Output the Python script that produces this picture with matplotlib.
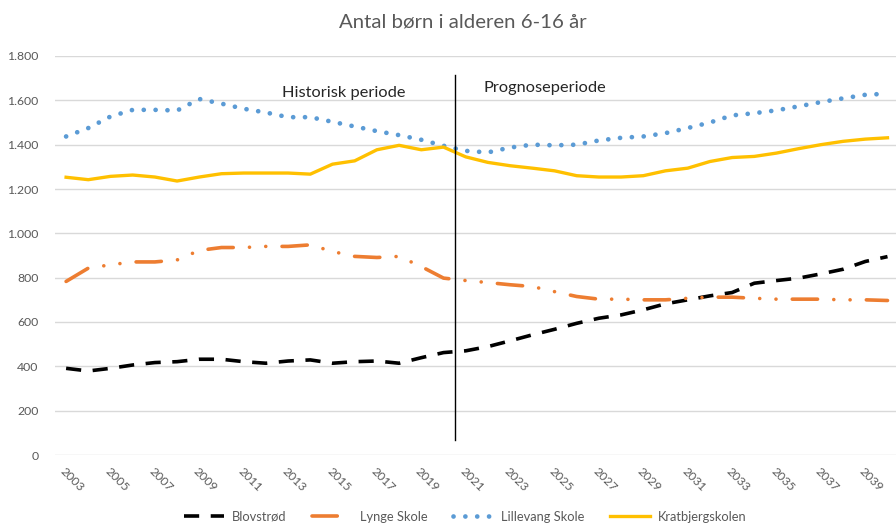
import numpy as np
import matplotlib
matplotlib.use('Agg')
from matplotlib import pyplot as plt

years = list(range(2003, 2041))

blovstrod = [391, 379, 391, 406, 417, 421, 432, 432, 421, 414,
             424, 429, 414, 421, 424, 414, 439, 462, 470, 489,
             515, 542, 567, 594, 617, 632, 655, 682, 700, 718,
             733, 775, 787, 798, 817, 838, 873, 895]
lynge = [783, 843, 858, 871, 871, 880, 923, 936, 936, 941,
         941, 948, 918, 896, 891, 896, 850, 798, 787, 778,
         768, 760, 737, 715, 703, 703, 700, 700, 707, 712,
         712, 707, 703, 703, 703, 700, 700, 697]
lillevang = [1437, 1475, 1527, 1557, 1557, 1554, 1606, 1585, 1562, 1545,
             1524, 1524, 1503, 1482, 1461, 1443, 1422, 1395, 1372, 1365,
             1387, 1400, 1397, 1400, 1419, 1431, 1437, 1452, 1475, 1500,
             1532, 1542, 1555, 1573, 1592, 1609, 1625, 1630]
kratbjerg = [1253, 1242, 1257, 1263, 1254, 1236, 1254, 1269, 1272, 1272,
             1272, 1267, 1312, 1327, 1377, 1397, 1377, 1389, 1345, 1320,
             1305, 1294, 1282, 1260, 1254, 1254, 1260, 1282, 1294, 1324,
             1342, 1347, 1362, 1382, 1400, 1415, 1425, 1431]

yticks = [0, 200, 400, 600, 800, 1000, 1200, 1400, 1600, 1800]
ytick_labels = ['0', '200', '400', '600', '800', '1.000', '1.200', '1.400', '1.600', '1.800']
xticks = list(range(2003, 2041, 2))

plt.rcParams['font.family'] = ['Lato', 'DejaVu Sans']
grey = '#595959'

fig = plt.figure(figsize=(8.96, 5.29), dpi=100)
ax = fig.add_axes([55 / 896, 74 / 529, 841 / 896, 399 / 529])

ax.plot(years, blovstrod, color='black', lw=2.6, dashes=(4.2, 3.2), label='Blovstrød')
ax.plot(years, lynge, color='#ED7D31', lw=2.6, dashes=(7, 4.5, 0.01, 4.5, 0.01, 4.5),
        dash_capstyle='round', label='Lynge Skole')
ax.plot(years, lillevang, color='#5B9BD5', lw=3.4, dashes=(0.01, 2.5),
        dash_capstyle='round', label='Lillevang Skole')
ax.plot(years, kratbjerg, color='#FFC000', lw=2.4, label='Kratbjergskolen')

# skillelinje mellem historik og prognose
ax.plot([2020.5, 2020.5], [68, 1714], color='black', lw=1)
ax.text(2015.5, 1633, 'Historisk periode', ha='center', va='center', fontsize=11.8, color='#262626')
ax.text(2024.55, 1655, 'Prognoseperiode', ha='center', va='center', fontsize=11.8, color='#262626')

ax.set_xlim(2002.5, 2002.5 + 841 / 22.2)
ax.set_ylim(0, 1800)
ax.set_yticks(yticks)
ax.set_yticklabels(ytick_labels)
ax.set_xticks(xticks)
ax.set_xticklabels([str(x) for x in xticks], rotation=-45, ha='left', va='top', rotation_mode='anchor')
ax.tick_params(length=0, colors=grey, labelsize=8.8)
ax.tick_params(axis='y', pad=12)
ax.tick_params(axis='x', pad=8)
ax.grid(axis='y', color='#D9D9D9', lw=1)
ax.set_axisbelow(True)
for s in ax.spines.values():
    s.set_visible(False)

fig.suptitle('Antal børn i alderen 6-16 år', x=0.516, y=0.975, fontsize=14.7, color=grey)
fig.legend(loc='lower center', bbox_to_anchor=(0.519, -0.01), ncol=4, frameon=False,
           fontsize=9.3, labelcolor=grey, handlelength=3.1, handletextpad=0.6,
           columnspacing=2.0)

plt.savefig('out.png', dpi=100)
